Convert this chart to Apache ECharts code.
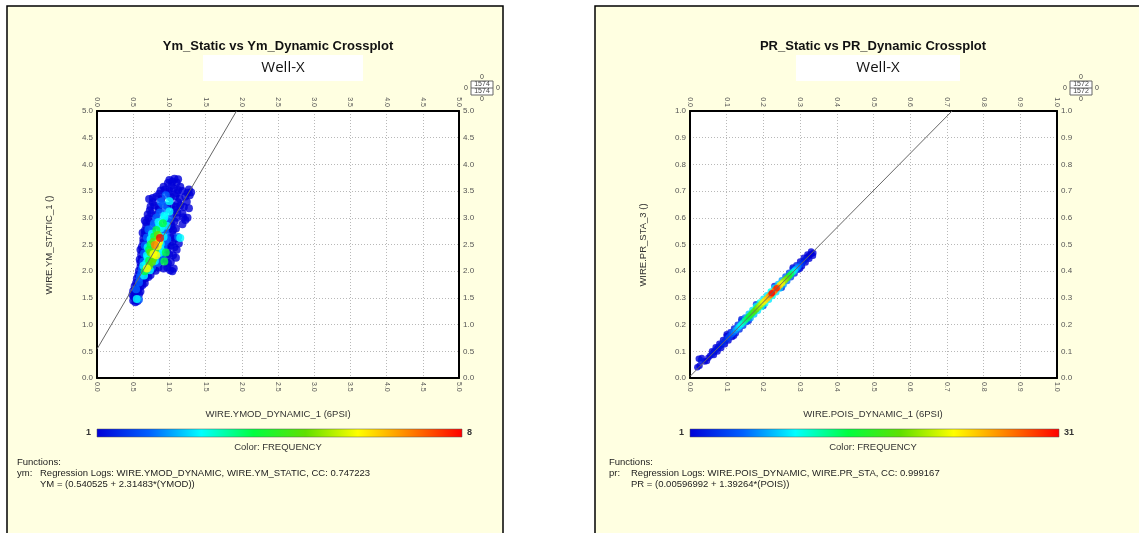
<!DOCTYPE html>
<html><head><meta charset="utf-8">
<script src="https://cdn.jsdelivr.net/npm/echarts@6/dist/echarts.min.js"></script>
<style>html,body{margin:0;padding:0;background:#fff;}#c{width:1139px;height:533px;}</style>
</head><body><div id="c"></div>
<script>
// ---------- DATA ----------
const ymTicks = [0,0.5,1,1.5,2,2.5,3,3.5,4,4.5,5];
const prTicks = [0,0.1,0.2,0.3,0.4,0.5,0.6,0.7,0.8,0.9,1];
const colorStops = ['#0000d8','#0060ff','#00ffff','#00ff40','#60e000','#ffff00','#ff8000','#ff0000'];
const ymFreqRange = [1, 8];
const prFreqRange = [1, 31];
const ymCount = 1574;
const prCount = 1572;
// [YMOD_DYNAMIC, YM_STATIC, frequency]
const ymPoints = [
[0.50,1.45,1],[0.53,1.42,1],[0.56,1.44,1],[0.55,1.48,3],[0.58,1.47,2],[0.51,1.52,1],
[0.49,1.56,1],[0.52,1.58,1],[0.55,1.60,1],[0.58,1.57,1],[0.60,1.62,1],[0.50,1.63,1],[0.54,1.66,2],[0.57,1.67,1],
[0.52,1.72,1],[0.56,1.73,1],[0.60,1.71,1],[0.63,1.74,1],[0.54,1.78,1],[0.58,1.79,2],[0.62,1.80,1],[0.66,1.78,1],
[0.55,1.86,1],[0.59,1.88,2],[0.63,1.85,1],[0.67,1.87,1],[0.71,1.89,1],[0.57,1.93,1],[0.61,1.95,2],[0.65,1.92,3],[0.69,1.94,1],[0.74,1.93,1],
[0.58,2.01,1],[0.62,2.03,2],[0.66,2.00,4],[0.69,2.05,6],[0.73,2.02,3],[0.77,2.04,1],[0.81,2.01,1],[0.60,2.08,1],[0.64,2.10,3],[0.72,2.10,5],[0.76,2.08,2],[0.85,2.07,1],[0.92,2.05,1],[0.97,2.07,1],[1.01,2.02,1],[1.04,2.00,1],
[0.60,2.16,1],[0.64,2.18,2],[0.68,2.15,3],[0.72,2.20,4],[0.76,2.17,5],[0.80,2.19,3],[0.84,2.16,2],[0.88,2.20,1],[0.93,2.18,4],[0.98,2.15,1],[1.02,2.17,1],[0.62,2.24,1],[0.70,2.25,3],[0.78,2.24,5],[0.86,2.25,2],[0.95,2.24,1],
[0.61,2.31,1],[0.65,2.33,2],[0.69,2.30,3],[0.74,2.35,5],[0.78,2.32,6],[0.82,2.30,6],[0.86,2.34,3],[0.90,2.31,2],[0.95,2.35,4],[1.00,2.32,1],[1.05,2.30,1],[0.63,2.39,1],[0.72,2.40,4],[0.80,2.39,5],[0.88,2.40,3],[0.97,2.40,1],
[0.62,2.46,1],[0.66,2.48,2],[0.70,2.45,3],[0.74,2.50,4],[0.80,2.49,7],[0.84,2.47,6],[0.88,2.51,3],[0.92,2.46,2],[0.97,2.50,1],[1.02,2.48,1],[1.07,2.45,1],[0.64,2.54,1],[0.78,2.55,5],[0.86,2.55,6],[0.94,2.55,2],[1.04,2.55,1],
[0.64,2.61,1],[0.69,2.63,2],[0.74,2.60,3],[0.79,2.65,4],[0.87,2.62,8],[0.92,2.64,3],[0.97,2.60,2],[1.02,2.63,1],[1.08,2.61,1],[1.15,2.62,3],[1.12,2.64,2],[0.66,2.69,1],[0.76,2.70,3],[0.84,2.68,5],[0.95,2.70,2],[1.04,2.69,1],
[0.66,2.76,1],[0.71,2.78,2],[0.76,2.75,2],[0.82,2.77,4],[0.88,2.80,3],[0.93,2.76,2],[0.99,2.79,1],[1.05,2.77,1],[1.09,2.80,1],[0.68,2.84,1],[0.78,2.85,2],[0.86,2.84,3],[0.96,2.85,3],[1.03,2.84,1],
[0.68,2.91,1],[0.73,2.93,1],[0.79,2.90,2],[0.85,2.92,3],[0.91,2.90,4],[0.96,2.94,2],[1.02,2.91,1],[1.07,2.93,1],[0.71,2.99,1],[0.82,3.00,2],[0.93,3.00,3],[1.00,2.98,2],[1.10,3.00,1],[1.19,3.01,1],[1.22,2.96,1],
[0.70,3.06,1],[0.75,3.08,1],[0.81,3.05,1],[0.87,3.10,2],[0.93,3.04,3],[1.00,3.12,3],[1.05,3.07,1],[1.11,3.10,1],[1.18,3.08,1],[0.73,3.14,1],[0.85,3.15,1],[0.96,3.15,2],[1.08,3.15,1],
[0.74,3.21,1],[0.79,3.23,1],[0.85,3.20,1],[0.91,3.25,2],[0.97,3.22,1],[1.03,3.24,1],[1.09,3.21,1],[1.15,3.23,1],[1.20,3.20,1],[0.77,3.29,1],[0.88,3.30,2],[1.00,3.31,3],[1.12,3.29,1],[1.24,3.30,1],
[0.77,3.37,1],[0.82,3.40,1],[0.89,3.36,1],[0.95,3.42,2],[1.02,3.38,1],[1.08,3.41,1],[1.14,3.36,1],[1.22,3.40,1],[1.28,3.42,1],[0.86,3.45,1],[0.99,3.46,1],[1.10,3.46,1],[1.25,3.47,1],
[0.88,3.51,1],[0.94,3.53,1],[1.00,3.50,1],[1.06,3.55,1],[1.12,3.52,1],[1.18,3.50,1],[1.30,3.48,1],[1.27,3.53,1],[0.92,3.58,1],[1.03,3.60,1],[1.15,3.58,1],
[0.98,3.65,1],[1.04,3.68,1],[1.10,3.66,1],[1.00,3.71,1],[1.07,3.73,1],[1.12,3.72,1],
[1.06,2.05,1],[1.09,2.25,1],[1.10,2.40,1],[1.13,2.52,1],[0.59,2.22,1],[0.60,2.40,1],[0.63,2.72,1],[0.66,2.95,1],[0.72,3.35,1],[1.27,3.18,1],[1.25,3.00,1],[1.18,2.88,1]
];
// [POIS_DYNAMIC, PR_STA, frequency]
const prPoints = [
[0.020,0.040,1],[0.026,0.046,1],[0.024,0.072,1],[0.032,0.075,1],[0.030,0.066,2],[0.040,0.062,1],[0.046,0.064,1],
[0.050,0.076,1],[0.055,0.083,1],[0.060,0.090,2],[0.065,0.097,1],[0.070,0.104,2],[0.075,0.111,1],[0.080,0.117,2],[0.085,0.124,2],
[0.090,0.131,3],[0.095,0.138,2],[0.100,0.145,3],[0.105,0.152,4],[0.110,0.159,4],[0.115,0.166,5],[0.120,0.173,6],[0.125,0.180,7],
[0.130,0.187,8],[0.135,0.194,9],[0.140,0.201,10],[0.145,0.208,11],[0.150,0.215,12],[0.155,0.222,13],[0.160,0.229,14],[0.165,0.236,15],
[0.170,0.243,16],[0.175,0.250,17],[0.180,0.257,18],[0.185,0.264,19],[0.190,0.271,20],[0.195,0.278,21],[0.200,0.285,22],[0.205,0.291,23],
[0.210,0.298,24],[0.215,0.305,25],[0.220,0.312,27],[0.223,0.317,31],[0.228,0.323,26],[0.232,0.330,27],[0.236,0.336,30],[0.240,0.340,25],
[0.245,0.347,23],[0.250,0.354,22],[0.255,0.361,20],[0.260,0.368,19],[0.265,0.375,17],[0.270,0.382,15],[0.275,0.389,13],[0.280,0.396,11],
[0.285,0.403,9],[0.290,0.410,7],[0.295,0.417,6],[0.300,0.424,4],[0.305,0.431,3],[0.310,0.438,2],[0.315,0.445,2],[0.320,0.452,1],
[0.325,0.459,1],[0.330,0.464,1],[0.336,0.468,1],
[0.060,0.100,1],[0.070,0.115,1],[0.080,0.128,1],[0.090,0.142,1],[0.100,0.157,1],[0.110,0.171,2],[0.120,0.185,2],[0.130,0.199,3],
[0.140,0.213,4],[0.150,0.227,6],[0.160,0.241,8],[0.170,0.255,9],[0.180,0.269,10],[0.190,0.283,10],[0.200,0.297,9],[0.210,0.310,9],
[0.220,0.324,10],[0.230,0.338,9],[0.240,0.352,8],[0.250,0.366,7],[0.260,0.380,5],[0.270,0.394,4],[0.280,0.408,3],[0.290,0.422,2],
[0.300,0.436,1],[0.310,0.450,1],[0.320,0.463,1],[0.330,0.474,1],
[0.065,0.086,1],[0.075,0.099,1],[0.085,0.112,1],[0.095,0.126,1],[0.105,0.140,1],[0.115,0.154,1],[0.125,0.168,2],[0.135,0.182,3],
[0.145,0.196,4],[0.155,0.210,5],[0.165,0.224,7],[0.175,0.238,8],[0.185,0.252,9],[0.195,0.266,10],[0.205,0.279,10],[0.215,0.293,9],
[0.225,0.307,10],[0.235,0.321,9],[0.245,0.335,8],[0.255,0.349,7],[0.265,0.363,6],[0.275,0.377,4],[0.285,0.391,3],[0.295,0.405,2],
[0.305,0.419,1],[0.315,0.433,1],[0.325,0.447,1],[0.335,0.458,1],
[0.100,0.164,1],[0.120,0.158,1],[0.140,0.220,2],[0.160,0.214,2],[0.180,0.276,3],[0.200,0.270,3],[0.230,0.345,2],[0.250,0.338,2],[0.280,0.414,1],[0.300,0.410,1]
];
// regression line end points
const ymLine = [[0, 0.5405], [1.927, 5.0]];
const prLine = [[0, 0.006], [0.714, 1.0]];

// ---------- CHART ----------
const chart = echarts.init(document.getElementById('c'), null, {renderer:'canvas'});
const FONT = '"Liberation Sans", Arial, sans-serif';
const byFreq = (a,b) => a[2]-b[2];

function xAxes(gi, max, interval){
  const common = {type:'value', gridIndex:gi, min:0, max:max, interval:interval,
    axisLine:{show:true, onZero:false, lineStyle:{color:'#000', width:2}},
    axisTick:{show:false},
    axisLabel:{fontSize:7, color:'#555', fontFamily:FONT, formatter:v=>v.toFixed(1), margin:4}};
  return [
    Object.assign({}, common, {position:'bottom', axisLabel:Object.assign({}, common.axisLabel, {rotate:-90}),
      splitLine:{show:true, lineStyle:{color:'#b8b8b8', type:[1,2], width:1}}}),
    Object.assign({}, common, {position:'top', axisLabel:Object.assign({}, common.axisLabel, {rotate:90}), splitLine:{show:false}})
  ];
}
function yAxes(gi, max, interval){
  const common = {type:'value', gridIndex:gi, min:0, max:max, interval:interval,
    axisLine:{show:true, onZero:false, lineStyle:{color:'#000', width:2}},
    axisTick:{show:false},
    axisLabel:{fontSize:8, color:'#555', fontFamily:FONT, formatter:v=>v.toFixed(1), margin:4}};
  return [
    Object.assign({}, common, {position:'left', splitLine:{show:true, lineStyle:{color:'#b8b8b8', type:[1,2], width:1}}}),
    Object.assign({}, common, {position:'right', splitLine:{show:false}})
  ];
}

function txt(x, y, text, opt){
  opt = opt || {};
  return {type:'text', x:x, y:y, rotation:opt.rotation||0, z:50,
    style:{text:text, fill:opt.fill||'#222', font:opt.font||('9.5px '+FONT),
      textAlign:opt.align||'left', align:opt.align||'left',
      textVerticalAlign:'middle', verticalAlign:'middle'}};
}
function gradient(){
  return new echarts.graphic.LinearGradient(0,0,1,0, colorStops.map((c,i)=>({offset:i/(colorStops.length-1), color:c})));
}
function countBox(cx, cy, n){
  return [
    {type:'rect', shape:{x:cx-11, y:cy-7, width:22, height:14}, z:50, style:{fill:'#fff', stroke:'#666', lineWidth:1}},
    {type:'line', shape:{x1:cx-11, y1:cy, x2:cx+11, y2:cy}, z:50, style:{stroke:'#666', lineWidth:1}},
    txt(cx, cy-3.5, String(n), {align:'center', font:'7px '+FONT, fill:'#444'}),
    txt(cx, cy+3.5, String(n), {align:'center', font:'7px '+FONT, fill:'#444'}),
    txt(cx, cy-11, '0', {align:'center', font:'7px '+FONT, fill:'#444'}),
    txt(cx, cy+11, '0', {align:'center', font:'7px '+FONT, fill:'#444'}),
    txt(cx-16, cy, '0', {align:'center', font:'7px '+FONT, fill:'#444'}),
    txt(cx+16, cy, '0', {align:'center', font:'7px '+FONT, fill:'#444'})
  ];
}

const graphics = [
  {type:'rect', shape:{x:7, y:6, width:496, height:560}, z:-100, zlevel:0, style:{fill:'#ffffe1', stroke:'#000', lineWidth:1.5}},
  {type:'rect', shape:{x:595, y:6, width:600, height:560}, z:-100, zlevel:0, style:{fill:'#ffffe1', stroke:'#000', lineWidth:1.5}},
  {type:'rect', shape:{x:203, y:55, width:160, height:26}, z:-90, style:{fill:'#fff'}},
  {type:'rect', shape:{x:796, y:55, width:164, height:26}, z:-90, style:{fill:'#fff'}},
  txt(278, 46, 'Ym_Static vs Ym_Dynamic Crossplot', {align:'center', font:'bold 13px '+FONT, fill:'#111'}),
  txt(873, 46, 'PR_Static vs PR_Dynamic Crossplot', {align:'center', font:'bold 13px '+FONT, fill:'#111'}),
  txt(283, 68, 'Well-X', {align:'center', font:'15px "Open Sans", sans-serif', fill:'#111'}),
  txt(878, 68, 'Well-X', {align:'center', font:'15px "Open Sans", sans-serif', fill:'#111'}),
  txt(278, 414, 'WIRE.YMOD_DYNAMIC_1 (6PSI)', {align:'center', font:'9.5px '+FONT, fill:'#333'}),
  txt(873, 414, 'WIRE.POIS_DYNAMIC_1 (6PSI)', {align:'center', font:'9.5px '+FONT, fill:'#333'}),
  txt(49, 245, 'WIRE.YM_STATIC_1 ()', {align:'center', font:'9.5px '+FONT, fill:'#333', rotation:Math.PI/2}),
  txt(643, 245, 'WIRE.PR_STA_3 ()', {align:'center', font:'9.5px '+FONT, fill:'#333', rotation:Math.PI/2}),
  {type:'rect', shape:{x:97, y:429, width:365, height:8}, z:50, style:{fill:gradient(), stroke:'#555', lineWidth:0.5}},
  {type:'rect', shape:{x:690, y:429, width:369, height:8}, z:50, style:{fill:gradient(), stroke:'#555', lineWidth:0.5}},
  txt(91, 433, String(ymFreqRange[0]), {align:'right', font:'bold 9px '+FONT, fill:'#333'}),
  txt(467, 433, String(ymFreqRange[1]), {align:'left', font:'bold 9px '+FONT, fill:'#333'}),
  txt(684, 433, String(prFreqRange[0]), {align:'right', font:'bold 9px '+FONT, fill:'#333'}),
  txt(1064, 433, String(prFreqRange[1]), {align:'left', font:'bold 9px '+FONT, fill:'#333'}),
  txt(278, 447, 'Color: FREQUENCY', {align:'center', font:'9.5px '+FONT, fill:'#333'}),
  txt(873, 447, 'Color: FREQUENCY', {align:'center', font:'9.5px '+FONT, fill:'#333'}),
  txt(17, 462, 'Functions:'),
  txt(17, 473, 'ym:'),
  txt(40, 473, 'Regression Logs: WIRE.YMOD_DYNAMIC, WIRE.YM_STATIC, CC: 0.747223'),
  txt(40, 484, 'YM = (0.540525 + 2.31483*(YMOD))'),
  txt(609, 462, 'Functions:'),
  txt(609, 473, 'pr:'),
  txt(631, 473, 'Regression Logs: WIRE.POIS_DYNAMIC, WIRE.PR_STA, CC: 0.999167'),
  txt(631, 484, 'PR = (0.00596992 + 1.39264*(POIS))')
].concat(countBox(482, 88, ymCount), countBox(1081, 88, prCount));

chart.setOption({
  animation:false,
  backgroundColor:'transparent',
  grid:[
    {left:97, top:111, width:362, height:267, show:true, backgroundColor:'#fff', borderWidth:0},
    {left:690, top:111, width:367, height:267, show:true, backgroundColor:'#fff', borderWidth:0}
  ],
  xAxis: xAxes(0, ymTicks[ymTicks.length-1], ymTicks[1]-ymTicks[0]).concat(xAxes(1, prTicks[prTicks.length-1], prTicks[1]-prTicks[0])),
  yAxis: yAxes(0, ymTicks[ymTicks.length-1], ymTicks[1]-ymTicks[0]).concat(yAxes(1, prTicks[prTicks.length-1], prTicks[1]-prTicks[0])),
  visualMap:[
    {type:'continuous', show:false, min:ymFreqRange[0], max:ymFreqRange[1], dimension:2, seriesIndex:0, inRange:{color:colorStops}},
    {type:'continuous', show:false, min:prFreqRange[0], max:prFreqRange[1], dimension:2, seriesIndex:1, inRange:{color:colorStops}}
  ],
  series:[
    {type:'scatter', xAxisIndex:0, yAxisIndex:0, symbolSize:8, data:ymPoints.slice().sort(byFreq), z:3},
    {type:'scatter', xAxisIndex:2, yAxisIndex:2, symbolSize:6.5, data:prPoints.slice().sort(byFreq), z:3},
    {type:'line', xAxisIndex:0, yAxisIndex:0, data:ymLine, symbol:'none', silent:true, z:5, lineStyle:{color:'#666', width:1}},
    {type:'line', xAxisIndex:2, yAxisIndex:2, data:prLine, symbol:'none', silent:true, z:5, lineStyle:{color:'#666', width:1}}
  ],
  graphic: graphics
});
</script></body></html>
